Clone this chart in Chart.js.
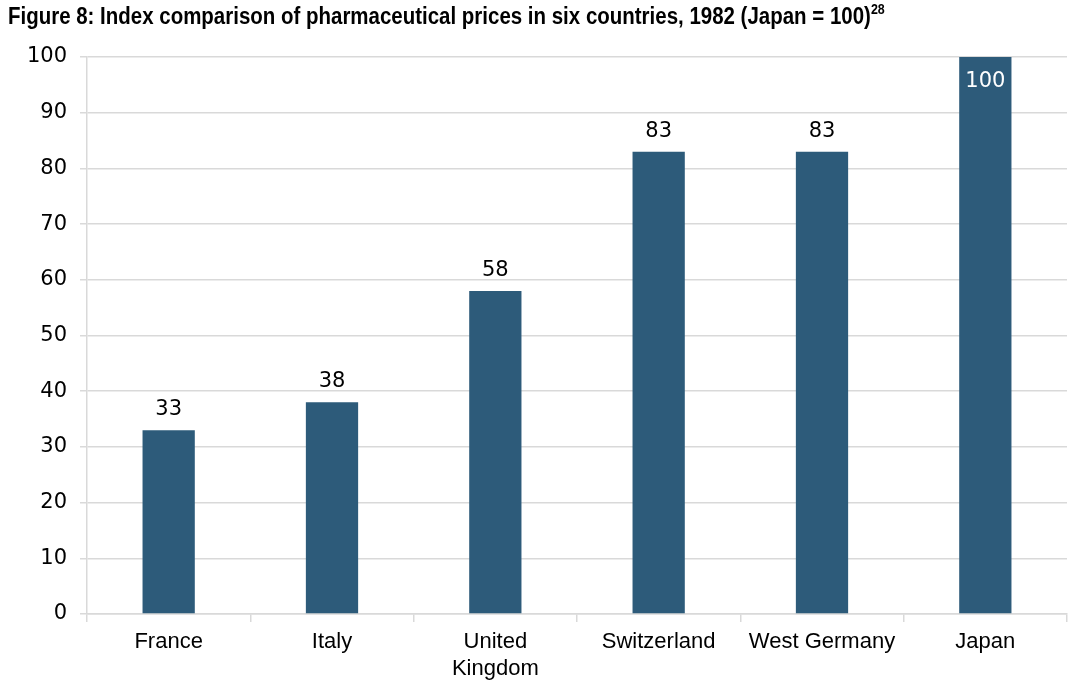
<!DOCTYPE html>
<html>
<head>
<meta charset="utf-8">
<script src="https://cdn.jsdelivr.net/npm/chart.js@4.4.0/dist/chart.umd.min.js"></script>
<style>
  html, body { margin: 0; padding: 0; background: #fff; }
  #wrap { position: relative; width: 1080px; height: 698px; }
  #title { position: absolute; left: 8px; top: 2px; font-family: "Liberation Sans", Arial, sans-serif; font-weight: bold; font-size: 23px; color: #000; white-space: nowrap; z-index: 2; transform: scaleX(0.89); transform-origin: 0 0; }
  #title sup { font-size: 14px; position: relative; top: -1px; }
  canvas { position: absolute; left: 0; top: 0; }
</style>
</head>
<body>
<div id="wrap">
  <div id="title">Figure 8: Index comparison of pharmaceutical prices in six countries, 1982 (Japan = 100)<sup>28</sup></div>
  <canvas id="c" width="1080" height="698"></canvas>
</div>
<script>
const categories = ["France", "Italy", ["United", "Kingdom"], "Switzerland", "West Germany", "Japan"];
const values = [33, 38, 58, 83, 83, 100];
const yTicks = [0, 10, 20, 30, 40, 50, 60, 70, 80, 90, 100];

const labelPlugin = {
  id: 'barLabels',
  afterDatasetsDraw(chart) {
    const ctx = chart.ctx;
    const meta = chart.getDatasetMeta(0);
    ctx.save();
    ctx.font = '21px "DejaVu Sans", sans-serif';
    ctx.textAlign = 'center';
    meta.data.forEach((bar, i) => {
      const v = values[i];
      if (v >= 100) {
        ctx.fillStyle = '#ffffff';
        ctx.textBaseline = 'top';
        ctx.fillText(String(v), bar.x, bar.y + 14);
      } else {
        ctx.fillStyle = '#000000';
        ctx.textBaseline = 'bottom';
        ctx.fillText(String(v), bar.x, bar.y - 10);
      }
    });
    ctx.restore();
  }
};

new Chart(document.getElementById('c'), {
  type: 'bar',
  data: {
    labels: categories,
    datasets: [{
      data: values,
      backgroundColor: '#2d5b7a',
      borderWidth: 0,
      barPercentage: 0.32,
      categoryPercentage: 1.0
    }]
  },
  options: {
    responsive: false,
    animation: false,
    devicePixelRatio: 1,
    layout: { padding: { left: 0, right: 13, top: 57, bottom: 0 } },
    plugins: { legend: { display: false }, tooltip: { enabled: false }, title: { display: false } },
    scales: {
      x: {
        afterFit(scale) { scale.height = 84; },
        grid: { display: true, drawOnChartArea: false, drawTicks: true, tickLength: 8, color: '#d9d9d9', lineWidth: 1.5, offset: true },
        border: { display: true, color: '#d9d9d9', width: 1.5 },
        ticks: { color: '#000', font: { family: '"Liberation Sans", Arial, sans-serif', size: 22 }, padding: 7, maxRotation: 0, autoSkip: false }
      },
      y: {
        min: 0, max: 100,
        afterFit(scale) { scale.width = 87; },
        afterBuildTicks(scale) { scale.ticks = yTicks.map(v => ({ value: v })); },
        grid: { color: '#d9d9d9', lineWidth: 1.5, drawTicks: true, tickLength: 7 },
        border: { display: true, color: '#d9d9d9', width: 1.5 },
        ticks: { color: '#000', font: { family: '"DejaVu Sans", sans-serif', size: 21 }, padding: 13 }
      }
    }
  },
  plugins: [labelPlugin]
});
</script>
</body>
</html>
